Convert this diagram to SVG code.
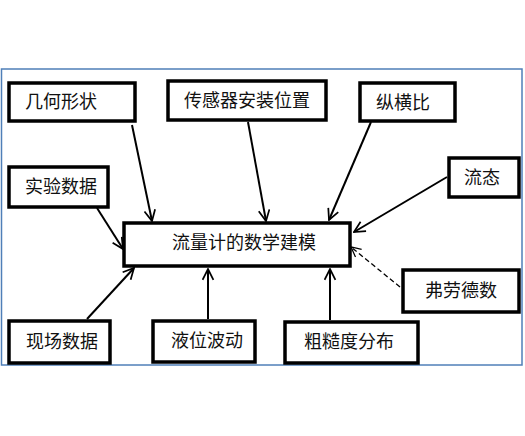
<svg xmlns="http://www.w3.org/2000/svg" width="525" height="436" viewBox="0 0 525 436">
<defs>
<style>
.box{fill:#fff;stroke:#000;stroke-width:3.5}
.t{font-family:"Liberation Serif","Noto Sans CJK SC",serif;font-size:18px;fill:#111;text-anchor:middle;dominant-baseline:central}
.c{stroke:#000;stroke-width:2;fill:none;marker-end:url(#ah)}
.d{stroke:#000;stroke-width:1.3;fill:none;stroke-dasharray:5 3;marker-end:url(#ah2)}
</style>
<marker id="ah" viewBox="0 0 12 12" refX="11" refY="6" markerWidth="6.5" markerHeight="6.5" markerUnits="strokeWidth" orient="auto">
<path d="M1,1 L11,6 L1,11" fill="none" stroke="#000" stroke-width="1.6"/>
</marker>
<marker id="ah2" viewBox="0 0 12 12" refX="11" refY="6" markerWidth="9" markerHeight="9" markerUnits="strokeWidth" orient="auto">
<path d="M1,1 L11,6 L1,11" fill="none" stroke="#000" stroke-width="1.3"/>
</marker>
</defs>
<rect width="525" height="436" fill="#fff"/>
<rect x="1.5" y="69" width="520.5" height="296" fill="#fff" stroke="#4f7fb8" stroke-width="1.5"/>
<g id="connectors">
<line class="c" x1="132" y1="125" x2="152" y2="221"/>
<line class="c" x1="248" y1="122" x2="266" y2="221"/>
<line class="c" x1="371" y1="122" x2="329" y2="220"/>
<line class="c" x1="447" y1="177" x2="354" y2="232"/>
<line class="c" x1="97" y1="208" x2="123" y2="249"/>
<line class="c" x1="87" y1="319" x2="134" y2="268"/>
<line class="c" x1="208" y1="319" x2="208" y2="269"/>
<line class="c" x1="330" y1="320" x2="330" y2="269"/>
<line class="d" x1="400" y1="287" x2="351" y2="247"/>
</g>
<g id="main"><rect class="box" x="124" y="223" width="226" height="43"/><text class="t" x="244" y="243">流量计的数学建模</text></g>
<g id="n1"><rect class="box" x="9" y="83" width="126" height="38"/><text class="t" x="61" y="102">几何形状</text></g>
<g id="n2"><rect class="box" x="168" y="81" width="158" height="39"/><text class="t" x="247" y="101">传感器安装位置</text></g>
<g id="n3"><rect class="box" x="360" y="83" width="95" height="38"/><text class="t" x="403" y="103">纵横比</text></g>
<g id="n4"><rect class="box" x="449" y="158" width="70" height="39"/><text class="t" x="482" y="178">流态</text></g>
<g id="n5"><rect class="box" x="9" y="167" width="99" height="40"/><text class="t" x="61" y="187">实验数据</text></g>
<g id="n6"><rect class="box" x="9" y="321" width="101" height="42"/><text class="t" x="62" y="342">现场数据</text></g>
<g id="n7"><rect class="box" x="153" y="321" width="102" height="41"/><text class="t" x="207" y="341">液位波动</text></g>
<g id="n8"><rect class="box" x="285" y="322" width="133" height="41"/><text class="t" x="349" y="342">粗糙度分布</text></g>
<g id="n9"><rect class="box" x="403" y="270" width="116" height="42"/><text class="t" x="461" y="291">弗劳德数</text></g>
</svg>
